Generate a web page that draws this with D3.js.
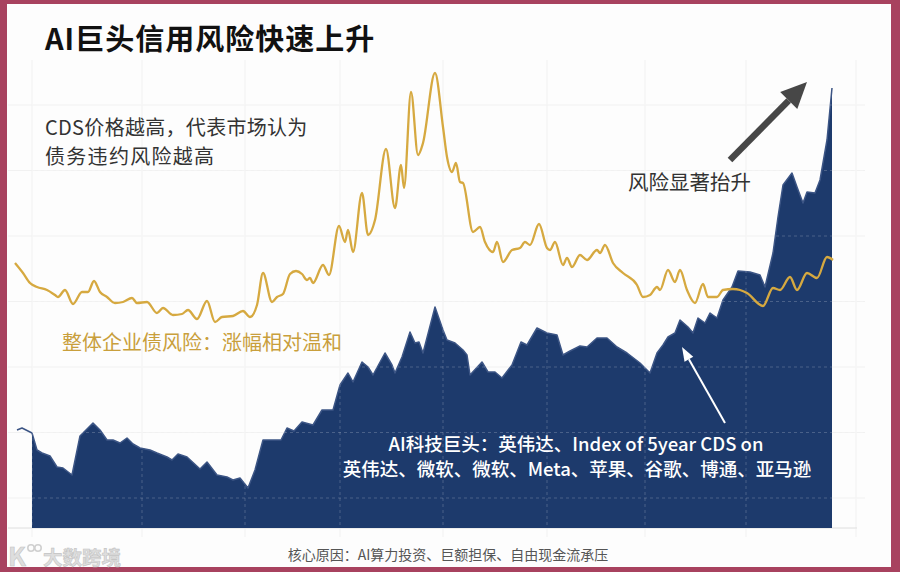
<!DOCTYPE html>
<html>
<head>
<meta charset="utf-8">
<script src="https://cdn.jsdelivr.net/npm/d3@7"></script>
<style>
  body { margin: 0; background: #fff; }
  svg { display: block; font-family: "Noto Sans CJK SC", "Noto Sans", sans-serif; }
</style>
</head>
<body>
<svg id="chart" width="900" height="572"></svg>
<script>
// weeks since start / index level
var goldT = [0, 4, 7.5, 11, 16, 20, 21.5, 25, 29, 33.5, 36.5, 39.5, 42.5, 46, 50, 54, 58.5, 61, 66, 71,
  74, 79, 83.5, 86.5, 91, 96, 100, 103.5, 109, 114, 117.5, 121, 124, 128.5, 131, 134, 137.5, 140.5, 143.5, 146,
  147.5, 149, 154, 157, 162, 165, 166.5, 169, 173.5, 176.5, 180, 185.5, 190, 193, 194.5, 198, 201.5, 204, 210, 214,
  216, 218.5, 220.5, 222.5, 224, 229, 232.5, 235, 239, 241, 244, 248.5, 252.5, 255, 257.5, 262, 266, 267.5, 270, 274,
  276, 278.5, 282.5, 286, 291, 292.5, 295, 299, 304, 311, 314, 317.5, 321, 322.5, 326.5, 330, 332.5, 336, 340, 344,
  346.5, 351, 354, 359, 362.5, 366, 374, 379, 382.5, 387.5, 391, 396, 401, 406, 409];
var goldV = [132.5, 127.5, 122.5, 120.5, 119, 116.5, 115.5, 119, 112, 118, 118, 123.5, 118, 115.5, 112.5, 113, 115, 112.5, 113, 107.5,
  110, 106.5, 107, 109, 104.5, 113.5, 103, 105.5, 106, 108.5, 105.5, 111.5, 127.5, 113, 115.5, 117, 127, 128.5, 127, 124,
  125, 122.5, 131.5, 126.5, 151, 143, 149, 138, 167.5, 146.5, 154, 189.5, 160, 181.5, 170, 218, 186.5, 192.5, 227.5, 200.5,
  185.5, 178, 182.5, 173, 172.5, 148, 150.5, 143, 138, 143, 133, 139, 140, 143, 141.5, 152, 140, 139, 143, 131.5,
  135, 130.5, 136.5, 134, 139, 137.5, 141.5, 132.5, 127.5, 121.5, 115.5, 116.5, 120.5, 119, 129, 123, 129, 119, 112.5, 122,
  115.5, 115.5, 119, 119.5, 119, 117.5, 111, 120, 119, 125.5, 119, 127.5, 125, 135.5, 134];

var navyT = [1, 3.5, 8.5, 11, 13.5, 17.5, 21, 24, 28.5, 32.5, 39, 42.5, 46, 49, 52.5, 56, 59, 62.5, 67.5, 71,
  76, 78.5, 81.5, 86, 92.5, 96, 101, 106, 109, 112.5, 116.5, 120, 124, 133, 136, 139.5, 143.5, 149, 153.5, 159,
  162.5, 166.5, 169, 173.5, 176.5, 179, 185, 188.5, 190, 193.5, 197.5, 200, 202, 204, 210, 214, 216, 220, 224, 226,
  227.5, 233.5, 236.5, 240, 243.5, 248.5, 253, 256, 261, 266, 271, 274, 277.5, 282.5, 286, 291, 296, 301, 306, 312.5,
  317.5, 321, 324, 326.5, 330, 332.5, 336.5, 339, 341.5, 345, 347.5, 351, 354, 358.5, 361.5, 367.5, 372.5, 375, 379, 381.5,
  384, 388.5, 391, 394, 396, 400, 402.5, 406, 408.5];
var navyV = [49, 50, 47.5, 39, 37.5, 36, 30.5, 30, 26.5, 46, 52.5, 49, 44, 44, 42.5, 45, 42, 40, 39, 37.5,
  35.5, 34, 37, 35.5, 29.5, 33, 26.5, 25.5, 24, 25, 20, 29, 44, 44, 50, 48.5, 53, 51.5, 59, 59,
  71.5, 77.5, 73, 83, 80.5, 76.5, 87.5, 81.5, 77.5, 85.5, 98, 92.5, 93, 87.5, 110.5, 99, 94, 92.5, 89, 86.5,
  76.5, 83, 78, 78, 75, 81.5, 93, 91.5, 100, 97.5, 96.5, 86.5, 88.5, 91, 90.5, 95, 95, 90.5, 87.5, 82.5,
  77.5, 87.5, 91.5, 95.5, 97.5, 104, 100.5, 97.5, 105, 102.5, 107.5, 105, 114, 120.5, 128.5, 128, 126.5, 120.5, 137.5, 155.5,
  171.5, 177.5, 170.5, 162.5, 168, 167.5, 174, 194, 220];
var navyStart = 8.5;

var xTicks = [8.5, 63.5, 115, 162.5, 214, 266, 315, 365.5, 420.5];
var yTicks = [15, 47.75, 80.5, 113.25, 146, 178.75, 211.5];

var gold = goldT.map(function(t, i) { return { t: t, v: goldV[i] }; });
var navy = navyT.map(function(t, i) { return { t: t, v: navyV[i] }; });

var svg = d3.select("#chart");

var x = d3.scaleLinear().domain([0, 409]).range([15, 833]);
var y = d3.scaleLinear().domain([0, 220]).range([528, 88]);

// frame
svg.append("rect").attr("width", 900).attr("height", 572).attr("fill", "#a8425f");
svg.append("rect").attr("x", 7).attr("y", 4).attr("width", 884).attr("height", 563).attr("fill", "#fdfdfd");

function drawGrid(g, stroke, dash) {
  g.selectAll("line.h")
    .data(yTicks)
    .enter().append("line")
      .attr("class", "h")
      .attr("x1", 8).attr("x2", 865)
      .attr("y1", function(d) { return y(d); })
      .attr("y2", function(d) { return y(d); })
      .attr("stroke", stroke)
      .attr("stroke-dasharray", dash);
  g.selectAll("line.v")
    .data(xTicks)
    .enter().append("line")
      .attr("class", "v")
      .attr("x1", function(d) { return x(d); })
      .attr("x2", function(d) { return x(d); })
      .attr("y1", 60).attr("y2", 537)
      .attr("stroke", stroke)
      .attr("stroke-dasharray", dash);
}

drawGrid(svg.append("g"), "#f1f1f1", null);

svg.append("line")
  .attr("x1", 8).attr("x2", 857)
  .attr("y1", y(0)).attr("y2", y(0))
  .attr("stroke", "#dedede");

// navy area
svg.append("clipPath").attr("id", "navyclip")
  .append("rect")
    .attr("x", x(navyStart)).attr("y", 0)
    .attr("width", 900).attr("height", 572);

var area = d3.area()
  .x(function(d) { return x(d.t); })
  .y0(y(0))
  .y1(function(d) { return y(d.v); });

var topLine = d3.line()
  .x(function(d) { return x(d.t); })
  .y(function(d) { return y(d.v); });

svg.append("path")
  .datum(navy)
  .attr("d", area)
  .attr("clip-path", "url(#navyclip)")
  .attr("fill", "#1d3a6c");

svg.append("path")
  .datum(navy)
  .attr("d", topLine)
  .attr("fill", "none")
  .attr("stroke", "#3c5585")
  .attr("stroke-width", 1.5)
  .attr("stroke-linejoin", "round");

// dashed grid showing on the area
var gOver = svg.append("g").attr("clip-path", "url(#navyclip)");
drawGrid(gOver, "rgba(255,255,255,0.2)", "3,3");

// gold line
svg.append("path")
  .datum(gold)
  .attr("d", topLine.curve(d3.curveMonotoneX))
  .attr("fill", "none")
  .attr("stroke", "#d6a940")
  .attr("stroke-width", 2.3)
  .attr("stroke-linejoin", "round");

// arrows
function arrow(x1, y1, x2, y2, color, w, headLen, headW) {
  var a = Math.atan2(y2 - y1, x2 - x1);
  var bx = x2 - headLen * Math.cos(a), by = y2 - headLen * Math.sin(a);
  var px = -Math.sin(a) * headW / 2, py = Math.cos(a) * headW / 2;
  svg.append("line")
    .attr("x1", x1).attr("y1", y1).attr("x2", bx).attr("y2", by)
    .attr("stroke", color).attr("stroke-width", w);
  svg.append("path")
    .attr("d", "M" + [x2, y2] + "L" + [bx + px, by + py] + "L" + [bx - px, by - py] + "Z")
    .attr("fill", color);
}
arrow(x(357.5), y(184), x(396), y(223), "#474747", 6.5, 26, 24);
arrow(x(355), y(52.5), x(333.5), y(90.5), "#ffffff", 2, 14, 10);

// texts
svg.append("text")
  .attr("x", 45).attr("y", 50)
  .attr("font-size", 29).attr("font-weight", "bold").attr("fill", "#111")
  .attr("letter-spacing", 1)
  .text("AI巨头信用风险快速上升");

svg.append("text")
  .attr("x", 45).attr("y", 135)
  .attr("font-size", 20).attr("fill", "#333")
  .attr("letter-spacing", 0.3)
  .text("CDS价格越高，代表市场认为");
svg.append("text")
  .attr("x", 45).attr("y", 164)
  .attr("font-size", 20).attr("fill", "#333")
  .attr("letter-spacing", 1.3)
  .text("债务违约风险越高");

svg.append("text")
  .attr("x", 628).attr("y", 190)
  .attr("font-size", 20.5).attr("fill", "#333")
  .text("风险显著抬升");

svg.append("text")
  .attr("x", 62).attr("y", 350)
  .attr("font-size", 20).attr("fill", "#c99f3c")
  .text("整体企业债风险：涨幅相对温和");

svg.append("text")
  .attr("x", 576).attr("y", 451)
  .attr("text-anchor", "middle")
  .attr("font-size", 18.5).attr("font-weight", 500).attr("fill", "#fff")
  .text("AI科技巨头：英伟达、Index of 5year CDS on");
svg.append("text")
  .attr("x", 577).attr("y", 476)
  .attr("text-anchor", "middle")
  .attr("font-size", 18.5).attr("font-weight", 500).attr("fill", "#fff")
  .text("英伟达、微软、微软、Meta、苹果、谷歌、博通、亚马逊");

svg.append("text")
  .attr("x", 448).attr("y", 560)
  .attr("text-anchor", "middle")
  .attr("font-size", 14).attr("fill", "#555")
  .text("核心原因：AI算力投资、巨额担保、自由现金流承压");

// watermark
var wm = svg.append("g").attr("fill", "#dedede").attr("stroke", "#c4c4c4").attr("stroke-width", 0.6);
wm.append("text")
  .attr("x", 8).attr("y", 566)
  .attr("font-size", 26).attr("font-weight", "bold")
  .text("K");
wm.selectAll("circle")
  .data([31, 38])
  .enter().append("circle")
    .attr("cx", function(d) { return d; }).attr("cy", 548).attr("r", 3.2)
    .attr("fill", "none").attr("stroke", "#d0d0d0").attr("stroke-width", 1.6);
wm.append("text")
  .attr("x", 43).attr("y", 565)
  .attr("font-size", 19.5).attr("font-weight", "bold")
  .text("大数跨境");
</script>
</body>
</html>
